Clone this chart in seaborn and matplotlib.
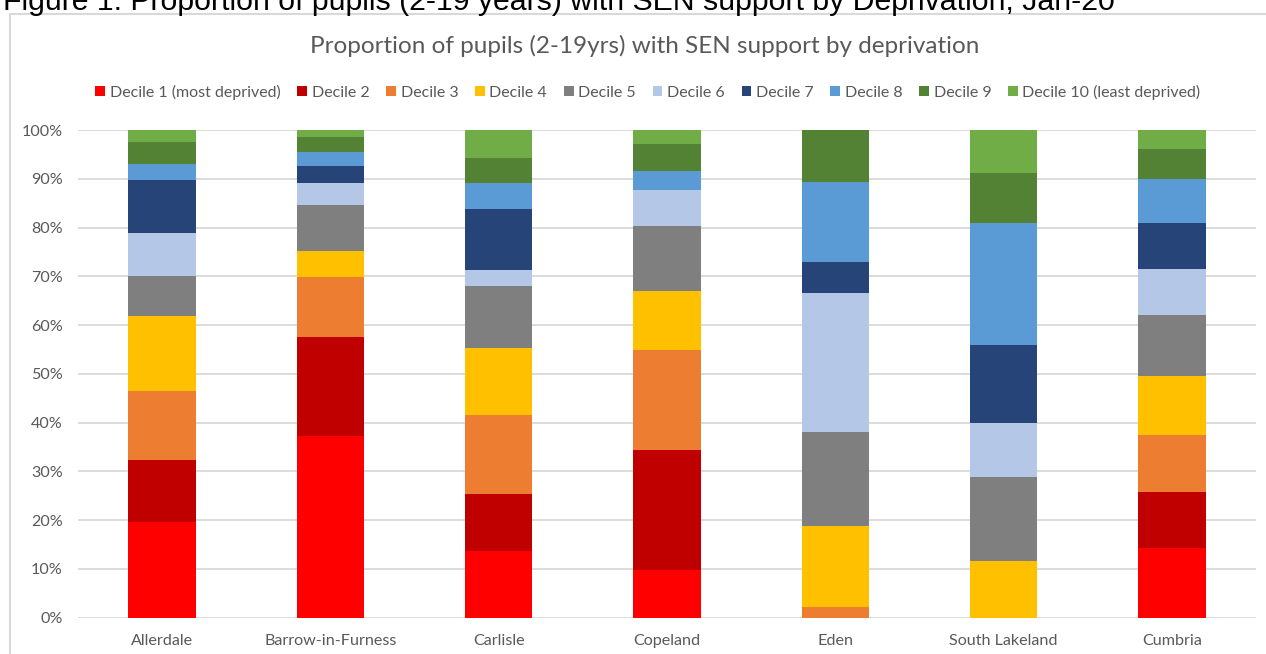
"""SEN support by deprivation decile, Cumbria districts"""
import numpy as np
import matplotlib
matplotlib.use("Agg")
import matplotlib.pyplot as plt
from matplotlib.lines import Line2D
import seaborn as sns

areas = ["Allerdale", "Barrow-in-Furness", "Carlisle", "Copeland", "Eden", "South Lakeland", "Cumbria"]
deciles = ["Decile 1 (most deprived)", "Decile 2", "Decile 3", "Decile 4", "Decile 5",
           "Decile 6", "Decile 7", "Decile 8", "Decile 9", "Decile 10 (least deprived)"]
colours = ["#FF0000", "#C00000", "#ED7D31", "#FFC000", "#7F7F7F",
           "#B4C7E7", "#264478", "#5B9BD5", "#548235", "#70AD47"]

# % of pupils per decile, one list per decile, in order of areas
d1 = [19.7, 37.3, 13.7, 9.8, 0.0, 0.0, 14.2]
d2 = [12.7, 20.3, 11.7, 24.6, 0.0, 0.0, 11.6]
d3 = [14.0, 12.3, 16.2, 20.5, 2.1, 0.0, 11.6]
d4 = [15.4, 5.3, 13.8, 12.1, 16.8, 11.6, 12.2]
d5 = [8.3, 9.4, 12.6, 13.4, 19.2, 17.2, 12.5]
d6 = [8.7, 4.5, 3.3, 7.3, 28.5, 11.2, 9.5]
d7 = [10.9, 3.6, 12.4, 0.0, 6.3, 15.9, 9.3]
d8 = [3.4, 2.7, 5.4, 3.9, 16.4, 25.0, 9.1]
d9 = [4.4, 3.2, 5.2, 5.6, 10.7, 10.3, 6.2]
d10 = [2.5, 1.4, 5.7, 2.8, 0.0, 8.8, 3.8]
series = [d1, d2, d3, d4, d5, d6, d7, d8, d9, d10]

sns.set_style("white")
plt.rcParams["font.family"] = ["Lato", "DejaVu Sans"]
grey = "#595959"

fig = plt.figure(figsize=(12.66, 6.54), dpi=100)
ax = fig.add_axes([78 / 1266, 1 - 617.7 / 654, (1256 - 78) / 1266, (617.7 - 130) / 654])

# normalise each column to 100% like the excel chart
totals = np.sum(series, axis=0)
bottom = np.zeros(len(areas))
for name, vals, col in zip(deciles, series, colours):
    share = np.array(vals) / totals
    sns.barplot(x=areas, y=share, bottom=bottom, color=col, width=0.4,
                label=name, ax=ax, linewidth=0, saturation=1)
    bottom += share

ax.set_ylim(0, 1)
ax.set_xlim(-0.5, len(areas) - 0.5)
ax.set_yticks(np.arange(0, 1.01, 0.1))
ax.set_yticklabels([f"{int(round(t * 100))}%" for t in np.arange(0, 1.01, 0.1)])
ax.yaxis.grid(True, color="#D9D9D9", linewidth=1.3)
ax.set_axisbelow(True)
for s in ax.spines.values():
    s.set_visible(False)
ax.tick_params(axis="both", length=0, colors=grey, labelsize=11.6)
ax.tick_params(axis="y", pad=11)
ax.tick_params(axis="x", pad=12)
ax.set_xlabel("")
ax.set_ylabel("")
if ax.get_legend():
    ax.get_legend().remove()

# excel chart border
fig.add_artist(Line2D([10 / 1266, 1.0], [1 - 14 / 654] * 2, color="#D9D9D9", linewidth=1.5))
fig.add_artist(Line2D([10 / 1266] * 2, [0, 1 - 14 / 654], color="#D9D9D9", linewidth=1.5))

fig.text(3 / 1266, 1 - 9.5 / 654, "Figure 1: Proportion of pupils (2-19 years) with SEN support by Deprivation, Jan-20",
         family="Liberation Sans", fontsize=21.8, va="baseline", ha="left", color="black")
fig.text(645 / 1266, 1 - 46 / 654, "Proportion of pupils (2-19yrs) with SEN support by deprivation",
         fontsize=17.5, color=grey, ha="center", va="center")

handles, labels = ax.get_legend_handles_labels()
fig.legend(handles, labels, loc="center", bbox_to_anchor=(648 / 1266, 1 - 92 / 654), ncol=10,
           frameon=False, fontsize=11.5, handlelength=0.6, handleheight=0.6, handletextpad=0.3,
           columnspacing=1.05, labelcolor=grey)

fig.savefig("out.png", dpi=100)
